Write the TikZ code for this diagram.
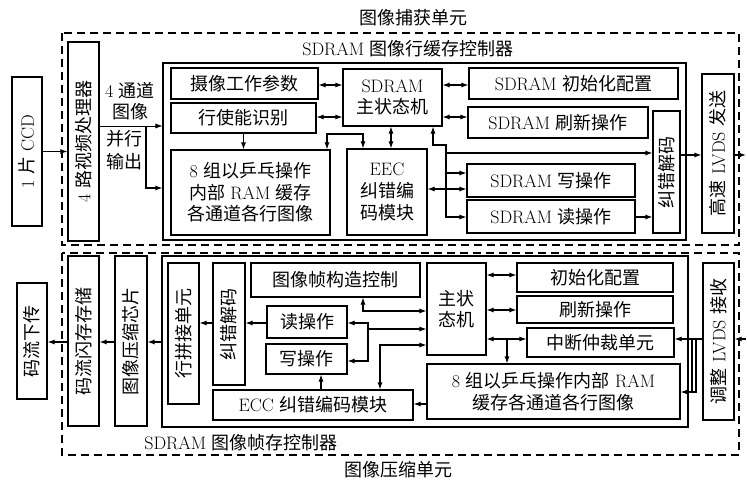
\documentclass[tikz,border=0pt]{standalone}
\usepackage{fontspec}
\usepackage{graphicx}
\newfontfamily\cjk{Noto Sans CJK SC}
\newcommand{\zh}[1]{{\cjk #1}}
\usetikzlibrary{arrows.meta}
\begin{document}
\begin{tikzpicture}[x=1pt,y=-1pt,
  font=\fontsize{18}{21.6}\selectfont,
  box/.style={draw, line width=1.1pt, inner sep=0pt, align=center},
  con/.style={line width=1.1pt},
  arr/.style={con, -{Latex[length=7pt,width=5pt]}},
  darr/.style={con, {Latex[length=7pt,width=5pt]}-{Latex[length=7pt,width=5pt]}},
  dashbox/.style={draw, line width=1.2pt, dash pattern=on 8pt off 5pt}]
\useasboundingbox (0,0) rectangle (747,484);

% ---------------- top unit ----------------
\draw[dashbox] (62,33) rectangle (739,245);
\node (t1) at (413,18) {\zh{图像捕获单元}};
\node (t2) at (408,49) {SDRAM \zh{图像行缓存控制器}};

\node[box, minimum width=30pt, minimum height=149pt] (ccd) at (27,151.5) {\rotatebox{90}{1 \zh{片} CCD}};
\node[box, minimum width=31pt, minimum height=199pt] (vp) at (83.5,141.5) {\rotatebox{90}{4 \zh{路视频处理器}}};
\node[box, minimum width=523pt, minimum height=177pt] (ctrl1) at (424.5,151.5) {};
\node[box, minimum width=147pt, minimum height=31pt] (cam) at (244.5,83.5) {\zh{摄像工作参数}};
\node[box, minimum width=145pt, minimum height=30pt] (lineen) at (243.5,118) {\zh{行使能识别}};
\node[box, minimum width=99pt, minimum height=57pt] (fsm1) at (392.5,97.5) {SDRAM\\\zh{主状态机}};
\node[box, minimum width=159pt, minimum height=85pt] (ram1) at (250.5,192.5) {8 \zh{组以乒乓操作}\\\zh{内部} RAM \zh{缓存}\\\zh{各通道各行图像}};
\node[box, minimum width=80pt, minimum height=86pt] (eec) at (387,192) {EEC\\\zh{纠错编}\\\zh{码模块}};
\node[box, minimum width=209pt, minimum height=31pt] (init1) at (573.5,83.5) {SDRAM \zh{初始化配置}};
\node[box, minimum width=180pt, minimum height=31pt] (ref1) at (558,122.5) {SDRAM \zh{刷新操作}};
\node[box, minimum width=168pt, minimum height=33pt] (wr1) at (551,180.5) {SDRAM \zh{写操作}};
\node[box, minimum width=168pt, minimum height=33pt] (rd1) at (551,216.5) {SDRAM \zh{读操作}};
\node[box, minimum width=27pt, minimum height=122pt] (dec1) at (666.5,172) {\rotatebox{90}{\zh{纠错解码}}};
\node[box, minimum width=32pt, minimum height=159pt] (tx) at (718,153.5) {\rotatebox{90}{\zh{高速} LVDS \zh{发送}}};

\node[align=center] (l4) at (130,101) {4 \zh{通道}\\\zh{图像}};
\node[align=center] (lp) at (124,150) {\zh{并行}\\[2pt]\zh{输出}};

\coordinate (j1) at (146,126);
\coordinate (eR1) at (746,155);
\draw[arr] (ccd.east) -- (ccd.east -| vp.west);
\draw[arr, line width=0.7pt] (vp.east |- j1) -- (ctrl1.west |- j1);
\draw[arr] (j1) -- (146,188) -- (ctrl1.west |- 0,188);
\draw[darr] (cam.east |- 0,85) -- (fsm1.west |- 0,85);
\draw[darr] (lineen.east |- 0,117) -- (fsm1.west |- 0,117);
\draw[arr] (lineen.south) -- (lineen.south |- ram1.north);
\draw[darr] (ram1.north -| 327,0) -- (327,134) -- (363,134) -- (eec.north -| 363,0);
\draw[darr] (fsm1.south -| 391,0) -- (eec.north -| 391,0);
\draw[darr] (fsm1.east |- 0,85) -- (init1.west |- 0,85);
\draw[darr] (fsm1.east |- 0,117) -- (ref1.west |- 0,117);
\draw[arr] (446,153) -- (446,145) -- (433,145) -- (fsm1.south -| 433,0);
\draw[arr] (446,145) -- (446,217) -- (rd1.west |- 0,217);
\draw[arr] (446,153) -- (dec1.west |- 0,153);
\draw[arr] (446,173) -- (wr1.west |- 0,173);
\draw[darr] (eec.east |- 0,189) -- (wr1.west |- 0,189);
\draw[arr] (rd1.east |- 0,217) -- (dec1.west |- 0,217);
\draw[arr] (dec1.east |- 0,155) -- (tx.west |- 0,155);
\draw[arr] (tx.east |- eR1) -- (eR1);

% ---------------- bottom unit ----------------
\draw[dashbox] (62,253) rectangle (739,455);
\node (t3) at (241,443) {SDRAM \zh{图像帧存控制器}};
\node (t4) at (398,470) {\zh{图像压缩单元}};

\node[box, minimum width=30pt, minimum height=116pt] (out) at (32,341) {\rotatebox{90}{\zh{码流下传}}};
\node[box, minimum width=31pt, minimum height=170pt] (flash) at (83.5,341) {\rotatebox{90}{\zh{码流闪存存储}}};
\node[box, minimum width=32pt, minimum height=170pt] (comp) at (131,341) {\rotatebox{90}{\zh{图像压缩芯片}}};
\node[box, minimum width=526pt, minimum height=171pt] (ctrl2) at (425,341.5) {};
\node[box, minimum width=31pt, minimum height=141pt] (stitch) at (183.5,333.5) {\rotatebox{90}{\zh{行拼接单元}}};
\node[box, minimum width=32pt, minimum height=122pt] (dec2) at (229,324) {\rotatebox{90}{\zh{纠错解码}}};
\node[box, minimum width=169pt, minimum height=34pt] (frame) at (335.5,280) {\zh{图像帧构造控制}};
\node[box, minimum width=80pt, minimum height=32pt] (rd2) at (307,322) {\zh{读操作}};
\node[box, minimum width=81pt, minimum height=30pt] (wr2) at (306.5,359) {\zh{写操作}};
\node[box, minimum width=200pt, minimum height=30pt] (ecc) at (313,405) {ECC \zh{纠错编码模块}};
\node[box, minimum width=59pt, minimum height=92pt] (fsm2) at (456.5,309) {\zh{主状}\\\zh{态机}};
\node[box, minimum width=156pt, minimum height=29pt] (init2) at (595,277.5) {\zh{初始化配置}};
\node[box, minimum width=156pt, minimum height=27pt] (ref2) at (595,309.5) {\zh{刷新操作}};
\node[box, minimum width=147pt, minimum height=29pt] (arb) at (600.5,342.5) {\zh{中断仲裁单元}};
\node[box, minimum width=253pt, minimum height=55pt] (ram2) at (553.5,391.5) {8 \zh{组以乒乓操作内部} RAM\\\zh{缓存各通道各行图像}};
\node[box, minimum width=31pt, minimum height=157pt] (rx) at (718.5,341.5) {\rotatebox{90}{\zh{调整} LVDS \zh{接收}}};

\coordinate (eR2) at (746,339);
\draw[darr] (fsm2.east |- 0,275) -- (init2.west |- 0,275);
\draw[darr] (fsm2.east |- 0,310) -- (ref2.west |- 0,310);
\draw[darr] (fsm2.east |- 0,339) -- (arb.west |- 0,339);
\draw[arr] (507,339) -- (ram2.north -| 507,0);
\draw[arr] (rx.west |- 0,339) -- (arb.east |- 0,339);
\draw[con] (692,339) -- (692,392);
\draw[arr] (696,339) -- (696,392) -- (ram2.east |- 0,392);
\draw[arr] (eR2) -- (rx.east |- eR2);
\draw[arr] (ram2.west |- 0,404) -- (ecc.east |- 0,404);
\draw[darr] (frame.south -| 363,0) -- (363,311) -- (fsm2.west |- 0,311);
\draw[darr] (rd2.east |- 0,323) -- (368,323) -- (368,361) -- (wr2.east |- 0,361);
\draw[arr] (368,329) -- (fsm2.west |- 0,329);
\draw[darr] (ecc.north -| 380,0) -- (380,345) -- (fsm2.west |- 0,345);
\draw[arr] (ecc.north -| 321,0) -- (wr2.south -| 321,0);
\draw[arr] (rd2.west |- 0,323) -- (dec2.east |- 0,323);
\draw[arr] (dec2.west |- 0,323) -- (stitch.east |- 0,323);
\draw[arr] (ctrl2.west |- 0,342) -- (comp.east |- 0,342);
\draw[arr] (comp.west |- 0,342) -- (flash.east |- 0,342);
\draw[arr] (flash.west |- 0,342) -- (out.east |- 0,342);
\end{tikzpicture}
\end{document}
